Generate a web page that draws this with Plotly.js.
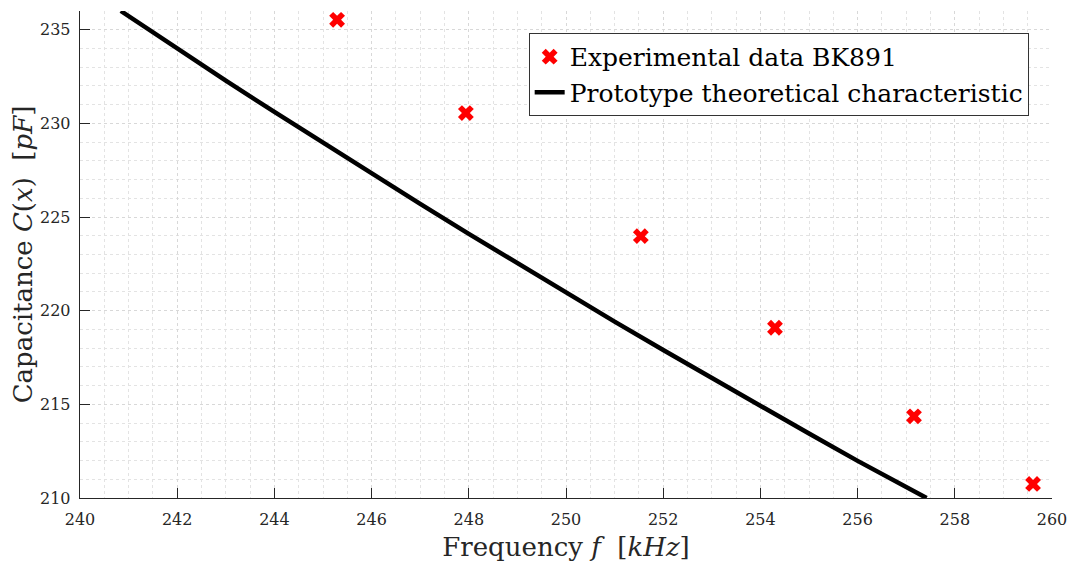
<!DOCTYPE html>
<html>
<head>
<meta charset="utf-8">
<script src="https://cdn.plot.ly/plotly-3.0.1.min.js"></script>
<style>html,body{margin:0;padding:0;background:#fff;}#chart{width:1076px;height:563px;}</style>
</head>
<body>
<div id="chart"></div>
<script>
// Experimental data (BK891)
const expFreq = [245.29, 247.94, 251.54, 254.30, 257.16, 259.61];
const expCap  = [235.53, 230.55, 223.98, 219.09, 214.36, 210.75];

// Prototype theoretical characteristic
const theoFreq = [240.84, 242, 243, 244, 245, 246, 247, 248, 249, 250, 251, 252, 253, 254, 255, 256, 257, 257.42];
const theoCap  = [236.0, 233.98, 232.28, 230.61, 228.95, 227.31, 225.70, 224.10, 222.52, 220.96, 219.42, 217.90, 216.39, 214.91, 213.44, 211.98, 210.55, 210.0];

const xTicks = [240, 242, 244, 246, 248, 250, 252, 254, 256, 258, 260];
const yTicks = [210, 215, 220, 225, 230, 235];

const serif = 'DejaVu Serif';
const axisColor = '#262626';

const traces = [
  {
    x: expFreq, y: expCap, type: 'scatter', mode: 'markers',
    name: 'Experimental data BK891',
    marker: {symbol: 'x', color: '#ff0000', size: 14, line: {width: 0}}
  },
  {
    x: theoFreq, y: theoCap, type: 'scatter', mode: 'lines',
    name: 'Prototype theoretical characteristic',
    line: {color: '#000000', width: 4.5},
    cliponaxis: false
  }
];

const layout = {
  width: 1076, height: 563,
  margin: {l: 80, r: 24, t: 11, b: 65},
  paper_bgcolor: '#ffffff', plot_bgcolor: '#ffffff',
  font: {family: serif},
  showlegend: true,
  legend: {
    x: 0.976, y: 0.955, xanchor: 'right', yanchor: 'top',
    bgcolor: '#ffffff', bordercolor: '#333333', borderwidth: 1,
    font: {family: serif, size: 25, color: '#000000'},
    tracegroupgap: 0, itemwidth: 30
  },
  xaxis: {
    range: [240, 260], tickvals: xTicks, ticktext: xTicks.map(String),
    ticks: 'inside', ticklen: 10, tickwidth: 1, tickcolor: axisColor,
    showline: true, linecolor: axisColor, linewidth: 1.3, mirror: false,
    showgrid: true, gridcolor: '#d8d8d8', griddash: 'dot', gridwidth: 1,
    minor: {dtick: 0.5, showgrid: true, gridcolor: '#e3e3e3', griddash: 'dot', gridwidth: 1},
    zeroline: false,
    tickfont: {family: serif, size: 16, color: axisColor},
    ticklabelstandoff: 6,
    title: {text: 'Frequency <i>f</i>  [<i>kHz</i>]', font: {family: serif, size: 26, color: axisColor}, standoff: 10},
    automargin: false
  },
  yaxis: {
    range: [210, 236], tickvals: yTicks, ticktext: yTicks.map(String),
    ticks: 'inside', ticklen: 10, tickwidth: 1, tickcolor: axisColor,
    showline: true, linecolor: axisColor, linewidth: 1.3, mirror: false,
    showgrid: true, gridcolor: '#d8d8d8', griddash: 'dot', gridwidth: 1,
    minor: {dtick: 1, showgrid: true, gridcolor: '#e3e3e3', griddash: 'dot', gridwidth: 1},
    zeroline: false,
    tickfont: {family: serif, size: 16, color: axisColor},
    ticklabelstandoff: 5,
    title: {text: 'Capacitance <i>C</i>(<i>x</i>)  [<i>pF</i>]', font: {family: serif, size: 26, color: axisColor}, standoff: 0},
    automargin: false
  }
};

Plotly.newPlot('chart', traces, layout, {displayModeBar: false, staticPlot: true});
</script>
</body>
</html>
